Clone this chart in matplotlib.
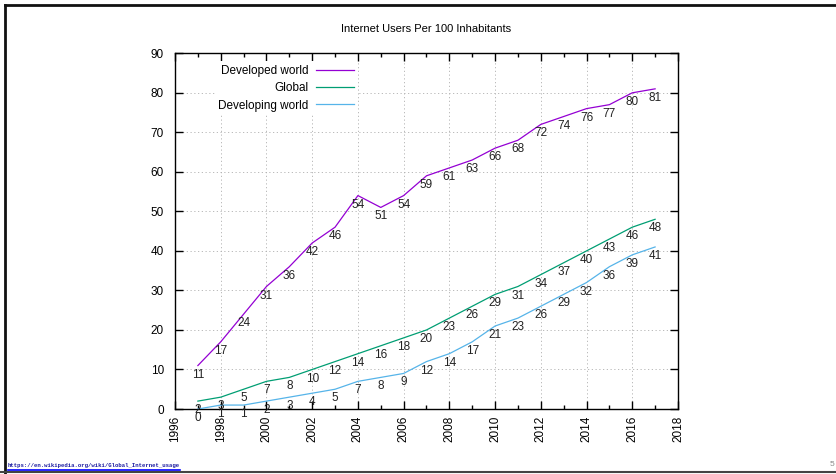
import matplotlib
matplotlib.use('Agg')
import matplotlib.pyplot as plt
from matplotlib.lines import Line2D
from matplotlib.ticker import MultipleLocator

plt.rcParams['font.family'] = ['Liberation Sans', 'DejaVu Sans']

# data
years = list(range(1997, 2018))
developed = [11, 17, 24, 31, 36, 42, 46, 54, 51, 54, 59, 61, 63, 66, 68, 72, 74, 76, 77, 80, 81]
globl = [2, 3, 5, 7, 8, 10, 12, 14, 16, 18, 20, 23, 26, 29, 31, 34, 37, 40, 43, 46, 48]
developing = [0, 1, 1, 2, 3, 4, 5, 7, 8, 9, 12, 14, 17, 21, 23, 26, 29, 32, 36, 39, 41]
series = [('Developed world', developed, '#9400d3'),
          ('Global', globl, '#009e73'),
          ('Developing world', developing, '#56b4e9')]

fig = plt.figure(figsize=(8.37, 4.74), dpi=100)
ax = fig.add_axes([0.2091, 0.1371, 0.6009, 0.7505])

for name, vals, col in series:
    ax.plot(years, vals, color=col, lw=0.9, label=name, zorder=3)
    for x, v in zip(years, vals):
        ax.annotate(str(v), (x, v), xytext=(0, -6.5), textcoords='offset points',
                    ha='center', va='center', fontsize=8.5, color='#222222', zorder=4)

ax.set_xlim(1996, 2018)
ax.set_ylim(0, 90)
ax.xaxis.set_major_locator(MultipleLocator(2))
ax.xaxis.set_minor_locator(MultipleLocator(1))
ax.yaxis.set_major_locator(MultipleLocator(10))
ax.tick_params(which='both', direction='in', top=True, right=True, width=1, labelsize=8.5)
ax.tick_params(which='major', length=5.8)
ax.tick_params(which='minor', length=3)
ax.tick_params(axis='y', pad=8)
ax.tick_params(axis='x', pad=5)
plt.setp(ax.get_xticklabels(), rotation=90)
for s in ax.spines.values():
    s.set_linewidth(1)
ax.grid(True, which='major', color='#b0b0b0', lw=0.6, linestyle=(0, (1.5, 3)))
ax.set_axisbelow(True)

leg = ax.legend(loc='upper right', bbox_to_anchor=(0.362, 0.977), markerfirst=False,
                frameon=True, fancybox=False, edgecolor='none', facecolor='white', framealpha=1,
                fontsize=8.5, handlelength=3.2, handletextpad=0.6, labelspacing=0.45,
                borderpad=0.3, borderaxespad=0)
leg.set_zorder(5)

ax.set_title('Internet Users Per 100 Inhabitants', fontsize=8,
             family=['Liberation Sans Narrow', 'Liberation Sans'], pad=15)

# slide decorations
fig.add_artist(Line2D([5 / 837, 5 / 837], [0, 1 - 5 / 474], color='#111111', lw=2))
fig.add_artist(Line2D([5 / 837, 1], [1 - 5 / 474, 1 - 5 / 474], color='#111111', lw=2))
fig.add_artist(Line2D([0, 1], [1 - 472 / 474, 1 - 472 / 474], color='#444444', lw=1.5))
fig.text(8 / 837, 1 - 465 / 474, 'https://en.wikipedia.org/wiki/Global_Internet_usage',
         fontsize=4.1, family='Liberation Mono', weight='bold', color='#1a1aa0', va='center')
fig.add_artist(Line2D([8 / 837, 180 / 837], [1 - 469.5 / 474, 1 - 469.5 / 474], color='#0000ff', lw=1.2))
fig.text(832 / 837, 1 - 465 / 474, '5', fontsize=6, color='#888888', ha='center', va='center')

fig.savefig('out.png', dpi=100)
